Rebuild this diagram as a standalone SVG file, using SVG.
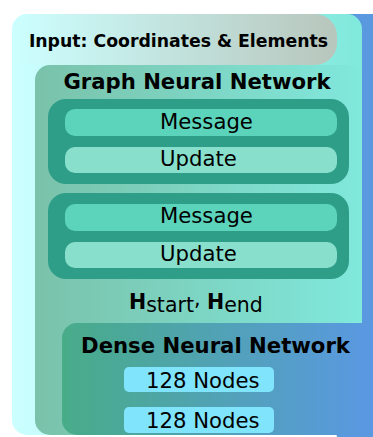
<svg xmlns="http://www.w3.org/2000/svg" width="373" height="437" viewBox="0 0 373 437">
<defs>
<linearGradient id="gLight" gradientUnits="userSpaceOnUse" x1="12" y1="0" x2="362" y2="0"><stop offset="0" stop-color="#ccffff"/><stop offset="1" stop-color="#80e8dc"/></linearGradient>
<linearGradient id="gInput" gradientUnits="userSpaceOnUse" x1="12" y1="0" x2="337" y2="0"><stop offset="0" stop-color="#ccffff"/><stop offset="1" stop-color="#b8c6bc"/></linearGradient>
<linearGradient id="gGnn" gradientUnits="userSpaceOnUse" x1="35" y1="0" x2="362" y2="0"><stop offset="0" stop-color="#7ac2aa"/><stop offset="1" stop-color="#80e8dc"/></linearGradient>
<linearGradient id="gDense" gradientUnits="userSpaceOnUse" x1="62" y1="0" x2="373" y2="0"><stop offset="0" stop-color="#48ac88"/><stop offset="1" stop-color="#5a98e2"/></linearGradient>
<style>
text{font-family:"DejaVu Sans","Liberation Sans",sans-serif;fill:#000}
.title{font-weight:bold;font-size:21.2px}
.lbl{font-size:21.2px}
.block{fill:#2e9e88}
.msg{fill:#5cd4bc}
.upd{fill:#88e0cc}
.node{fill:#80e4fc}
</style>
</defs>
<g id="background">
<rect x="335" y="14" width="60" height="430" rx="15" fill="#5a98e0"/>
<rect x="12" y="14" width="350" height="421" rx="15" fill="url(#gLight)"/>
</g>
<g id="input">
<rect x="12" y="14" width="325" height="51" rx="22" fill="url(#gInput)"/>
<text x="178.5" y="47" text-anchor="middle" font-weight="bold" font-size="17.3">Input: Coordinates &amp; Elements</text>
</g>
<g id="gnn">
<rect x="35" y="65" width="327" height="258" rx="15" fill="url(#gGnn)"/>
<rect x="35" y="290" width="60" height="145" rx="15" fill="url(#gGnn)"/>
<text class="title" x="197" y="89" text-anchor="middle">Graph Neural Network</text>
</g>
<g id="layer1">
<rect class="block" x="48" y="99" width="301" height="85" rx="18"/>
<rect class="msg" x="65" y="109" width="272" height="27" rx="10"/>
<rect class="upd" x="65" y="147" width="272" height="26" rx="10"/>
<text class="lbl" x="160" y="129">Message</text>
<text class="lbl" x="160" y="166">Update</text>
</g>
<g id="layer2">
<rect class="block" x="48" y="193" width="301" height="86" rx="18"/>
<rect class="msg" x="65" y="204" width="272" height="27" rx="10"/>
<rect class="upd" x="65" y="242" width="272" height="26" rx="10"/>
<text class="lbl" x="160" y="223">Message</text>
<text class="lbl" x="160" y="261">Update</text>
</g>
<g id="hidden">
<text x="129" y="309" font-size="20.5"><tspan font-weight="bold">H</tspan><tspan dy="3">start</tspan><tspan dy="-6">, </tspan><tspan dy="3" font-weight="bold">H</tspan><tspan dy="3">end</tspan></text>
</g>
<g id="dense">
<rect x="62" y="323" width="330" height="112" rx="15" fill="url(#gDense)"/>
<text class="title" x="215.5" y="353" text-anchor="middle">Dense Neural Network</text>
<rect class="node" x="124" y="367" width="150" height="25" rx="5"/>
<text class="lbl" x="146" y="388">128 Nodes</text>
<rect class="node" x="124" y="407" width="150" height="26" rx="5"/>
<text class="lbl" x="146" y="428">128 Nodes</text>
</g>
<g id="connectors"/>
</svg>
